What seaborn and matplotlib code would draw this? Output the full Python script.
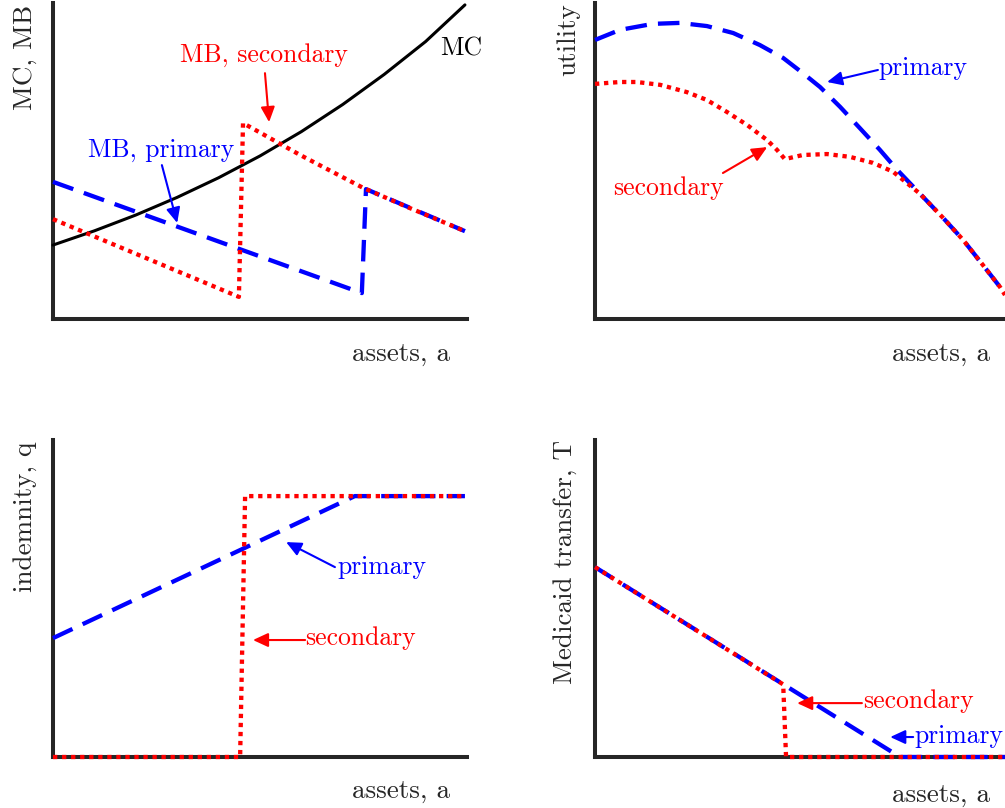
import matplotlib
matplotlib.use("Agg")
import matplotlib.pyplot as plt
import pandas as pd
import seaborn as sns

# ---------------------------------------------------------------
# Schematic curves (x = assets a, scaled 0-100; y scaled 0-100)
# ---------------------------------------------------------------

# Panel 1: marginal cost and marginal benefit of private insurance
mc_assets = [0, 10, 20, 30, 40, 50, 60, 70, 80, 90, 99.5]
mc_values = [23.4, 27.9, 32.9, 38.5, 44.7, 51.6, 59.3, 67.9, 77.4, 87.8, 99.4]

mb_primary_assets = [0, 74.6, 75.6, 99.5]
mb_primary_values = [43.4, 8.2, 41.1, 27.8]

mb_secondary_assets = [0, 44.9, 45.9, 59.7, 74.9, 86.2, 99.5]
mb_secondary_values = [31.6, 7.0, 62.0, 51.9, 41.5, 35.1, 27.8]

# Panel 2: utility
util_primary_assets = [0, 6.1, 14.1, 20.7, 27.3, 33.7, 40.2, 45.9, 50.7, 54.9,
                       59.8, 64.6, 69.5, 73.7, 79.3, 84.9, 89.8, 94.6, 98.8, 100]
util_primary_values = [88.3, 91.5, 93.4, 93.7, 92.7, 90.5, 86.7, 82.6, 77.8, 73.4,
                       67.1, 60.4, 53.5, 47.2, 39.6, 32.0, 25.0, 17.1, 10.1, 7.6]

util_secondary_assets = [0, 6.1, 10.2, 15.9, 22.4, 27.3, 32.2, 37.1, 42.0, 44.4,
                         46.3, 50.7, 56.6, 62.2, 67.8, 72.7, 79.3, 84.9, 89.8,
                         94.6, 98.8, 100]
util_secondary_values = [74.4, 75.0, 75.0, 74.1, 71.8, 69.3, 65.5, 61.4, 56.6, 53.5,
                         50.6, 51.9, 52.2, 51.3, 49.4, 46.6, 39.6, 32.0, 25.0,
                         17.1, 10.1, 7.6]

# Panel 3: indemnity
indem_primary_assets = [0, 72.9, 99.5]
indem_primary_values = [37.5, 82.3, 82.3]

indem_secondary_assets = [0, 45.2, 46.4, 99.5]
indem_secondary_values = [0, 0, 82.3, 82.3]

# Panel 4: Medicaid transfer
transfer_primary_assets = [0, 74.4, 100]
transfer_primary_values = [59.9, 0, 0]

transfer_secondary_assets = [0, 45.9, 46.6, 100]
transfer_secondary_values = [59.9, 22.9, 0, 0]

# ---------------------------------------------------------------
# Styling
# ---------------------------------------------------------------
BLUE = "#0000ff"
RED = "#ff0000"
INK = "#262626"
FS = 18.5        # curve annotations
FS_AXIS = 19.5   # axis labels
LW = 3.1

sns.set_theme(style="ticks")
plt.rcParams["font.family"] = ["cmr10", "DejaVu Serif"]
plt.rcParams["mathtext.fontset"] = "cm"
plt.rcParams["axes.formatter.use_mathtext"] = True

DASHED = (0, (5, 2.6))
DOTTED = (0, (1, 1.1))

fig = plt.figure(figsize=(10.05, 8.08), dpi=100)

W, H = 1005.0, 808.0


def make_axes(left, top, right, bottom):
    return fig.add_axes([left / W, 1 - bottom / H, (right - left) / W, (bottom - top) / H])


def draw(ax, xs, ys, color, style, lw, z):
    df = pd.DataFrame({"assets": xs, "value": ys})
    sns.lineplot(data=df, x="assets", y="value", ax=ax, sort=False, estimator=None,
                 color=color, linewidth=lw, linestyle=style, zorder=z, clip_on=False)


def style_axes(ax, ylabel, ylab_x, ylab_y, xlab_x, xlab_y):
    ax.set_xlim(0, 100)
    ax.set_ylim(0, 100)
    ax.set_xticks([])
    ax.set_yticks([])
    sns.despine(ax=ax)
    for side in ("left", "bottom"):
        ax.spines[side].set_linewidth(2.9)
        ax.spines[side].set_color(INK)
        ax.spines[side].set_capstyle("projecting")
    ax.set_xlabel("assets, a", loc="right", fontsize=FS_AXIS, color=INK)
    ax.xaxis.set_label_coords(xlab_x, xlab_y)
    ax.xaxis.label.set_verticalalignment("baseline")
    ax.set_ylabel(ylabel, loc="top", fontsize=FS_AXIS, color=INK)
    ax.yaxis.set_label_coords(ylab_x, ylab_y)
    ax.yaxis.label.set_verticalalignment("baseline")


def note(ax, text, color, text_xy, ha, tail, head):
    ax.text(text_xy[0], text_xy[1], text, color=color, fontsize=FS, ha=ha, va="baseline",
            zorder=6)
    ax.annotate("", xy=head, xytext=tail,
                arrowprops=dict(arrowstyle="-|>,head_length=0.65,head_width=0.3",
                                color=color, lw=1.5, mutation_scale=14,
                                shrinkA=0, shrinkB=0), zorder=6)


# ---- Panel 1: MC vs MB ----
ax1 = make_axes(53, 3, 467, 319)
draw(ax1, mc_assets, mc_values, "black", "-", 2.2, 3)
draw(ax1, mb_primary_assets, mb_primary_values, BLUE, DASHED, LW, 4)
draw(ax1, mb_secondary_assets, mb_secondary_values, RED, DOTTED, LW, 5)
style_axes(ax1, "MC, MB", -0.052, 0.994, 0.959, -0.133)
ax1.text(98.6, 83.5, "MC", color="black", fontsize=FS, ha="center", va="baseline")
note(ax1, "MB, secondary", RED, (51.0, 81.3), "center", (51.2, 77.8), (52.2, 62.3))
note(ax1, "MB, primary", BLUE, (26.0, 51.3), "center", (26.3, 48.7), (30.0, 30.4))

# ---- Panel 2: utility ----
ax2 = make_axes(595, 3, 1005, 319)
draw(ax2, util_primary_assets, util_primary_values, BLUE, DASHED, LW, 4)
draw(ax2, util_secondary_assets, util_secondary_values, RED, DOTTED, LW, 5)
style_axes(ax2, "utility", -0.048, 1.0, 0.963, -0.133)
note(ax2, "primary", BLUE, (69.0, 77.2), "left", (69.0, 78.8), (56.6, 75.0))
note(ax2, "secondary", RED, (17.8, 39.2), "center", (31.2, 46.2), (42.0, 54.4))

# ---- Panel 3: indemnity ----
ax3 = make_axes(53, 440, 467, 757)
draw(ax3, indem_primary_assets, indem_primary_values, BLUE, DASHED, LW, 4)
draw(ax3, indem_secondary_assets, indem_secondary_values, RED, DOTTED, LW, 5)
style_axes(ax3, "indemnity, q", -0.050, 0.994, 0.959, -0.129)
note(ax3, "primary", BLUE, (68.6, 57.7), "left", (68.1, 59.9), (56.3, 67.8))
note(ax3, "secondary", RED, (60.9, 35.3), "left", (60.9, 36.9), (48.3, 36.9))

# ---- Panel 4: Medicaid transfer ----
ax4 = make_axes(595, 440, 1005, 757)
draw(ax4, transfer_primary_assets, transfer_primary_values, BLUE, DASHED, LW, 4)
draw(ax4, transfer_secondary_assets, transfer_secondary_values, RED, DOTTED, LW, 5)
style_axes(ax4, "Medicaid transfer, T", -0.056, 1.0, 0.963, -0.142)
note(ax4, "secondary", RED, (65.4, 15.5), "left", (65.1, 17.0), (49.3, 17.0))
note(ax4, "primary", BLUE, (78.0, 4.4), "left", (77.6, 6.3), (72.0, 6.3))

fig.savefig("out.png", dpi=100)
